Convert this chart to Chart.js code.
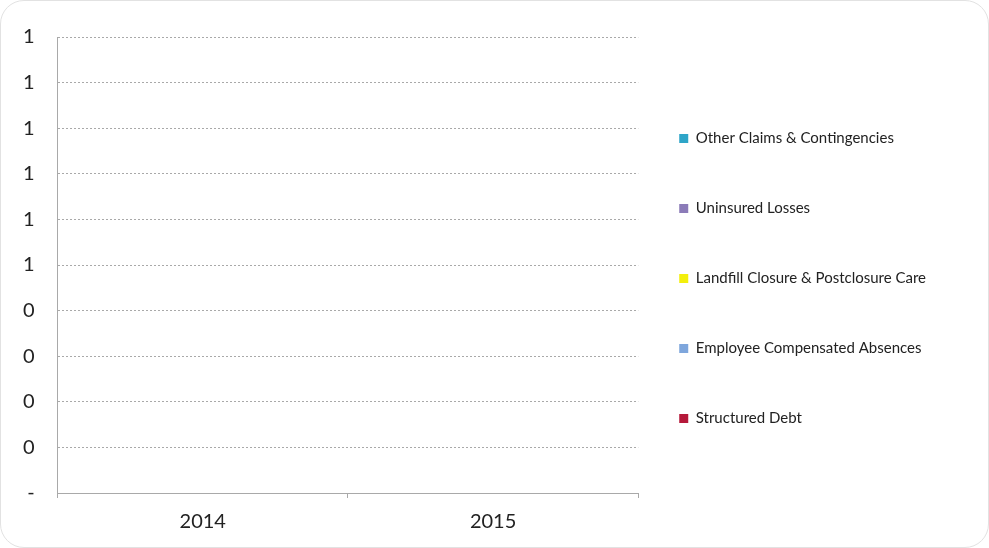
<!DOCTYPE html>
<html lang="en">
<head>
    <meta charset="UTF-8">
    <title>Liabilities 2014-2015</title>
    <script src="https://cdn.jsdelivr.net/npm/chart.js"></script>
    <style>
        body {
            margin: 0;
            background-color: #ffffff;
        }

        .frame {
            position: absolute;
            left: 0;
            top: 0;
            width: 987px;
            height: 546px;
            border: 1px solid #e2e2e2;
            border-radius: 24px;
        }

        #chart {
            position: absolute;
            left: 0;
            top: 0;
        }
    </style>
</head>
<body>
    <div class="frame"></div>
    <canvas id="chart" width="989" height="548"></canvas>

    <script>
        // categories and series (all reported as zero in the source chart)
        const years = ['2014', '2015'];
        const structuredDebt = [0, 0];
        const employeeAbsences = [0, 0];
        const landfillCare = [0, 0];
        const uninsuredLosses = [0, 0];
        const otherClaims = [0, 0];

        const seriesNames = [
            'Structured Debt',
            'Employee Compensated Absences',
            'Landfill Closure & Postclosure Care',
            'Uninsured Losses',
            'Other Claims & Contingencies'
        ];
        const seriesColors = ['#b5193a', '#7ea6dc', '#f3ef0c', '#8b7bb8', '#2ea5c8'];
        const seriesValues = [structuredDebt, employeeAbsences, landfillCare, uninsuredLosses, otherClaims];

        // value axis: 0 .. 1 in tenths, shown rounded the way the sheet does
        const yMin = 0;
        const yMax = 1;
        const yStep = 0.1;
        const yLabel = v => (Math.abs(v) < 1e-9 ? '-' : String(Math.round(v)));

        const gridGrey = '#a9a9a9';

        // nudges the legend so its boxes sit where the original has them
        const legendShift = {
            id: 'legendShift',
            afterUpdate(chart) {
                const lg = chart.legend;
                lg.left -= 14;
                lg.right -= 14;
                lg.top -= 13;
                lg.bottom -= 13;
            }
        };

        const ctx = document.getElementById('chart').getContext('2d');
        new Chart(ctx, {
            type: 'bar',
            data: {
                labels: years,
                datasets: seriesNames.map((name, i) => ({
                    label: name,
                    data: seriesValues[i],
                    backgroundColor: seriesColors[i],
                    borderWidth: 0
                }))
            },
            options: {
                responsive: false,
                animation: false,
                layout: {
                    padding: { left: 0, right: 39, top: 37, bottom: 2 }
                },
                plugins: {
                    legend: {
                        position: 'right',
                        reverse: true,
                        maxWidth: 420,
                        labels: {
                            font: { family: 'Lato', size: 15 },
                            color: '#222222',
                            boxWidth: 9,
                            boxHeight: 9,
                            padding: 55
                        }
                    },
                    tooltip: { enabled: false }
                },
                scales: {
                    x: {
                        stacked: true,
                        grid: {
                            drawOnChartArea: false,
                            drawTicks: true,
                            tickLength: 5,
                            color: gridGrey
                        },
                        border: { color: gridGrey, dash: [2, 2] },
                        ticks: {
                            font: { family: 'Lato', size: 20 },
                            color: '#222222',
                            padding: 12
                        }
                    },
                    y: {
                        stacked: true,
                        min: yMin,
                        max: yMax,
                        grid: {
                            color: gridGrey,
                            drawTicks: false
                        },
                        border: { color: gridGrey, dash: [2, 2] },
                        ticks: {
                            stepSize: yStep,
                            font: { family: 'Lato', size: 20 },
                            color: '#222222',
                            padding: 23,
                            callback: v => yLabel(v)
                        }
                    }
                }
            },
            plugins: [legendShift]
        });
    </script>
</body>
</html>
